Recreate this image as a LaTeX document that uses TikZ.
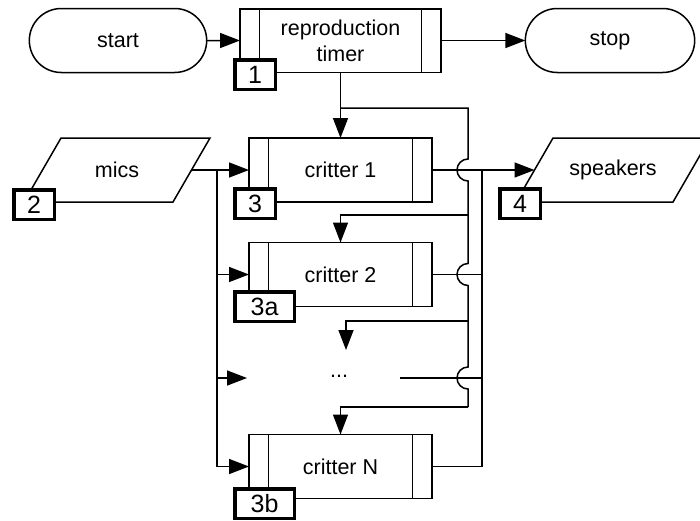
\documentclass[tikz,border=0pt]{standalone}
\usepackage{fontspec}
\setmainfont{Liberation Sans}
\usetikzlibrary{shapes.misc,arrows.meta}

\begin{document}
\begin{tikzpicture}[%
  x=1pt, y=1pt,
  line width=1.5pt,
  font=\fontsize{21.5}{26}\selectfont,
  procstyle/.style={%
    rectangle,
    draw,
    minimum width=183pt,
    minimum height=64pt,
    outer sep=0pt,
    align=center,
  },
  termstyle/.style={%
    rounded rectangle,
    draw,
    minimum height=64pt,
    outer sep=0pt,
  },
  iostyle/.style={%
    rectangle,
    minimum height=64pt,
    outer sep=0pt,
  },
  numstyle/.style={%
    rectangle,
    draw,
    fill=white,
    line width=3.5pt,
    minimum width=40.5pt,
    minimum height=29.5pt,
    inner sep=0pt,
    anchor=north west,
    font=\fontsize{25}{30}\selectfont,
  },
  linkstyle/.style={-{Triangle[length=20pt,width=15pt]}},
]
  \useasboundingbox (0,0) rectangle (700,-520);

  \node [termstyle, minimum width=184pt] (start) at (118,-40.5) {start};
  \node [procstyle, minimum width=201pt, minimum height=63.5pt] (timer) at (340.5,-40.5) {reproduction\\timer};
  \node [termstyle, minimum width=176pt] (stop) at (610,-40.5) {stop};
  \node [iostyle, minimum width=149pt] (mics) at (117,-170) {mics};
  \node [iostyle, minimum width=157pt] (speakers) at (613,-170) {speakers};
  \node [procstyle] (c1) at (340.5,-170) {critter 1};
  \node [procstyle] (c2) at (340.5,-274.5) {critter 2};
  \node (dots) at (339,-376) {...};
  \node [procstyle] (cN) at (340.5,-466.5) {critter N};

  \foreach \n in {mics,speakers}
    \draw ([xshift=18.5pt]\n.north west) -- ([xshift=18.5pt]\n.north east)
      -- ([xshift=-18.5pt]\n.south east) -- ([xshift=-18.5pt]\n.south west) -- cycle;

  \foreach \n in {timer,c1,c2,cN}
    \draw ([xshift=19.5pt]\n.north west) -- ([xshift=19.5pt]\n.south west)
          ([xshift=-19.5pt]\n.north east) -- ([xshift=-19.5pt]\n.south east);

  \coordinate (din) at (247,-378);
  \coordinate (dout) at (400,-378);
  \coordinate (dtop) at (346,-350);
  \coordinate (tj) at (340.5,-108);
  \coordinate (tb) at (468,-108);
  \coordinate (tb2) at (468,-215);
  \coordinate (tb3) at (468,-321);
  \coordinate (tbend) at (468,-407);
  \coordinate (ib1) at (217,-170);
  \coordinate (ibN) at (217,-466.5);
  \coordinate (ob1) at (482,-170);
  \coordinate (ob2) at (482,-274.5);
  \coordinate (ob3) at (482,-378);
  \coordinate (obN) at (482,-466.5);

  \draw [linkstyle] (start) -- (timer);
  \draw [linkstyle] (timer) -- (stop);
  \draw [linkstyle] (timer.south) -- (c1.north);
  \draw (tj) -- (tb) -- (468,-159) arc[start angle=90, end angle=270, radius=11]
    -- (468,-263.5) arc[start angle=90, end angle=270, radius=11]
    -- (468,-367) arc[start angle=90, end angle=270, radius=11] -- (tbend);
  \draw [linkstyle] (tb2) -| (c2.north);
  \draw [linkstyle] (tb3) -| (dtop);
  \draw [linkstyle] (tbend) -| (cN.north);

  \draw [linkstyle] (mics.east) -- (c1.west);
  \draw (ib1) -- (ibN);
  \draw [linkstyle] (ib1 |- c2.west) -- (c2.west);
  \draw [linkstyle] (ib1 |- din) -- (din);
  \draw [linkstyle] (ibN) -- (cN.west);

  \draw (c1.east) -- (ob1);
  \draw (c2.east) -- (ob2);
  \draw (dout) -- (ob3);
  \draw (cN.east) -- (obN);
  \draw [line width=2.6pt] (ob1) -- (obN);
  \draw [linkstyle] (ob1) -- (speakers.west);

  \node [numstyle] (n1) at (233,-58) {1};
  \node [numstyle] (n2) at (12,-188) {2};
  \node [numstyle] (n3) at (233,-187) {3};
  \node [numstyle, minimum width=59.5pt] (n3a) at (233,-290) {3a};
  \node [numstyle, minimum width=59.5pt] (n3b) at (233,-487) {3b};
  \node [numstyle] (n4) at (498,-187) {4};
\end{tikzpicture}
\end{document}
